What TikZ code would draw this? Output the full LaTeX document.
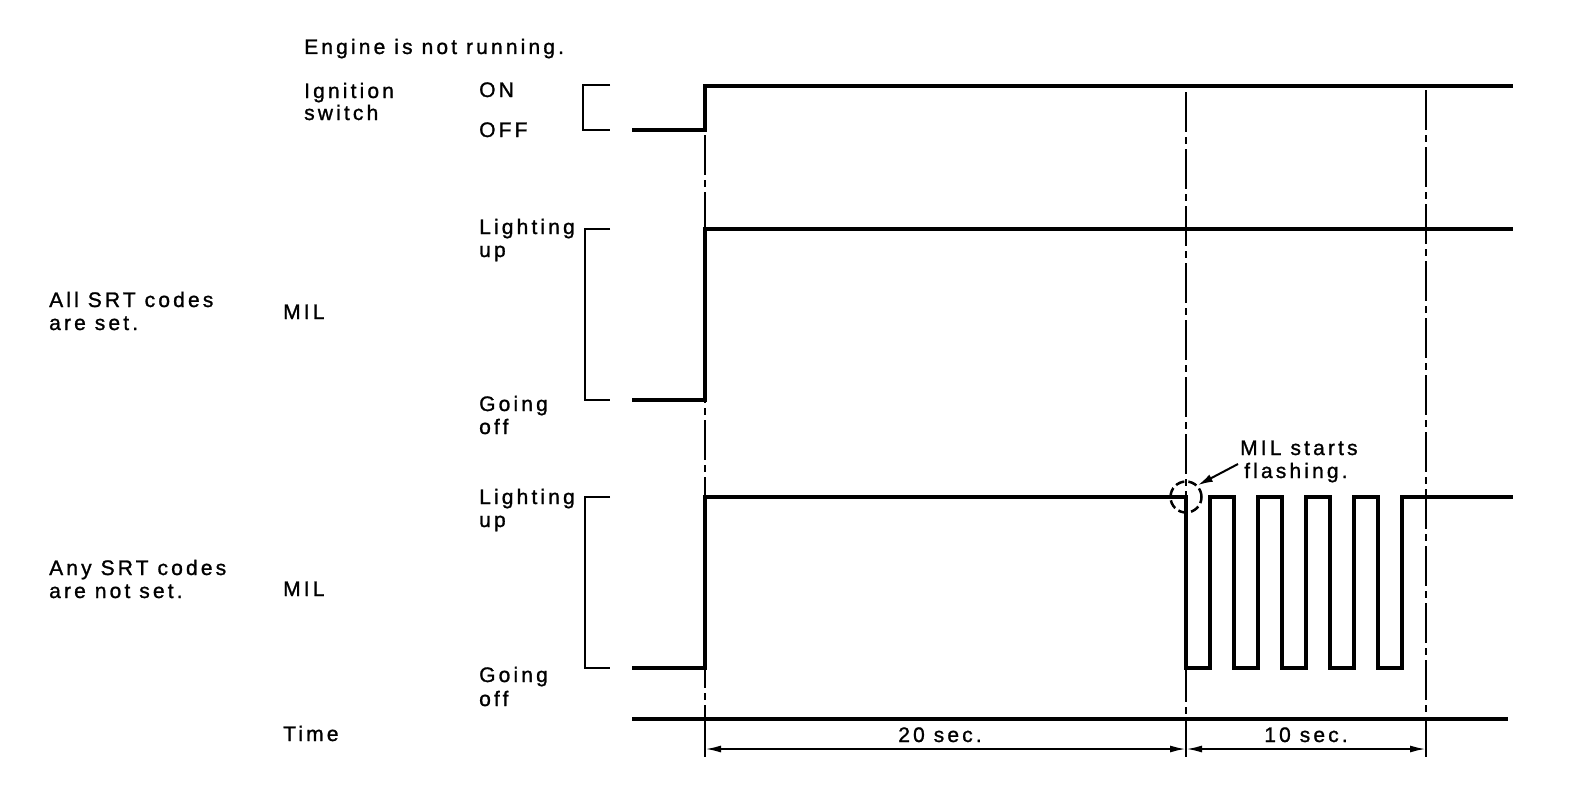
\documentclass[tikz,border=0pt]{standalone}
\usepackage{fontspec}
\setmainfont{Liberation Sans}[LetterSpace=15,FakeBold=1.2]
\usetikzlibrary{arrows.meta}
\begin{document}
\begin{tikzpicture}[x=1pt,y=-1pt,
  lbl/.style={anchor=base west, inner sep=0pt, font=\fontsize{21}{25}\selectfont},
  lblc/.style={anchor=base, inner sep=0pt, font=\fontsize{21}{25}\selectfont},
  sig/.style={line width=4.5pt, line join=miter},
  brk/.style={line width=2.2pt},
  dd/.style={line width=2pt, dash pattern=on 40pt off 5pt on 7pt off 5pt},
  dim/.style={line width=2pt, {Latex[length=16pt,width=7pt]}-{Latex[length=16pt,width=7pt]}},
  tick/.style={line width=2pt}]
\useasboundingbox (0,0) rectangle (1584,792);

% texts
\node[lbl] (eng) at (304,54) {Engine is not running.};
\node[lbl] (ign1) at (304,98) {Ignition};
\node[lbl] (ign2) at (304,120) {switch};
\node[lbl] (on) at (479,97) {ON};
\node[lbl] (off) at (479,137) {OFF};
\node[lbl] (l1a) at (479,234) {Lighting};
\node[lbl] (l1b) at (479,257) {up};
\node[lbl] (all1) at (49,307) {All SRT codes};
\node[lbl] (all2) at (49,330) {are set.};
\node[lbl] (mil1) at (283,319) {MIL};
\node[lbl] (g1a) at (479,411) {Going};
\node[lbl] (g1b) at (479,434) {off};
\node[lbl] (l2a) at (479,504) {Lighting};
\node[lbl] (l2b) at (479,527) {up};
\node[lbl] (any1) at (49,575) {Any SRT codes};
\node[lbl] (any2) at (49,598) {are not set.};
\node[lbl] (mil2) at (283,596) {MIL};
\node[lbl] (g2a) at (479,682) {Going};
\node[lbl] (g2b) at (479,706) {off};
\node[lbl] (time) at (283,741) {Time};
\node[lbl] (fl1) at (1240,455) {MIL starts};
\node[lbl] (fl2) at (1244,478) {flashing.};
\node[lblc] (t20) at (940,742) {20 sec.};
\node[lblc] (t10) at (1306,742) {10 sec.};

% dash-dot verticals
\draw[dd] (705,135) -- (705,719);
\draw[dd] (1186,92) -- (1186,719);
\draw[dd] (1426,90) -- (1426,719);

% brackets
\draw[brk] (610,85) -- (583,85) -- (583,130) -- (610,130);
\draw[brk] (610,229) -- (585,229) -- (585,400) -- (610,400);
\draw[brk] (610,497) -- (585,497) -- (585,668) -- (610,668);

% signals
\draw[sig] (632,130) -- (705,130) -- (705,86) -- (1513,86);
\draw[sig] (632,400) -- (705,400) -- (705,229) -- (1513,229);
\draw[sig] (632,668) -- (705,668) -- (705,497) -- (1186,497) -- (1186,668)
  -- (1210,668) -- (1210,497) -- (1234,497) -- (1234,668)
  -- (1258,668) -- (1258,497) -- (1282,497) -- (1282,668)
  -- (1306,668) -- (1306,497) -- (1330,497) -- (1330,668)
  -- (1354,668) -- (1354,497) -- (1378,497) -- (1378,668)
  -- (1402,668) -- (1402,497) -- (1513,497);

% circle and pointer
\node[draw, circle, line width=2.5pt, dash pattern=on 9pt off 4pt, minimum size=31pt, inner sep=0pt] (circ) at (1186,497) {};
\coordinate (ps) at (1238,464);
\draw[line width=2pt, -{Latex[length=15pt,width=8pt]}] (ps) -- (circ.north east);

% time axis
\draw[line width=3.5pt] (632,719) -- (1508,719);
\draw[tick] (705,721) -- (705,757);
\draw[tick] (1186,721) -- (1186,757);
\draw[tick] (1426,721) -- (1426,757);
\draw[dim] (705,749) -- (1186,749);
\draw[dim] (1186,749) -- (1426,749);
\end{tikzpicture}
\end{document}
